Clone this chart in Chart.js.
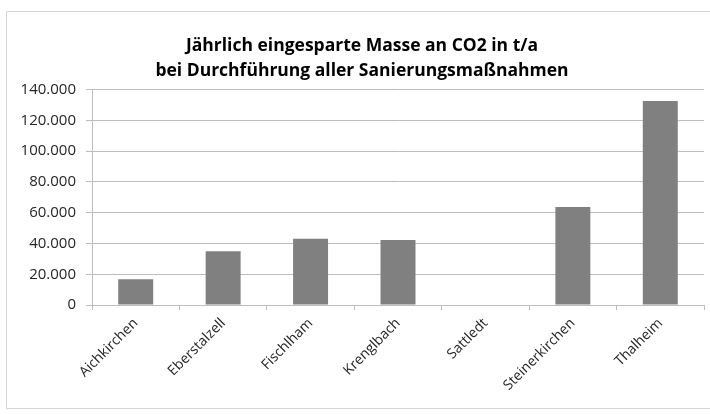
<!DOCTYPE html>
<html>
<head>
<meta charset="utf-8">
<script src="https://cdn.jsdelivr.net/npm/chart.js@4"></script>
<style>
  html, body { margin: 0; padding: 0; background: #fff; }
  #wrap { position: relative; width: 710px; height: 414px; overflow: hidden; }
  #frame { position: absolute; left: 6px; top: 11px; width: 720px; height: 396px; border: 1px solid #d4d4d4; }
  canvas { position: absolute; left: 0; top: 0; }
</style>
</head>
<body>
<div id="wrap">
  <div id="frame"></div>
  <canvas id="co2Chart" width="710" height="414"></canvas>
</div>
<script>
// Gemeinden und eingesparte CO2-Masse (t/a)
const gemeinden = ['Aichkirchen', 'Eberstalzell', 'Fischlham', 'Krenglbach', 'Sattledt', 'Steinerkirchen', 'Thalheim'];
const einsparung = [16700, 35000, 43000, 42300, 0, 63700, 132600];
const yTicks = [0, 20000, 40000, 60000, 80000, 100000, 120000, 140000];
const titelZeilen = ['Jährlich eingesparte Masse an CO2 in t/a', 'bei Durchführung aller Sanierungsmaßnahmen'];

document.addEventListener("DOMContentLoaded", function() {
    const ctx = document.getElementById('co2Chart').getContext('2d');

    function deZahl(v) {
        return String(v).replace(/\B(?=(\d{3})+(?!\d))/g, '.');
    }

    new Chart(ctx, {
        type: 'bar',
        data: {
            labels: gemeinden,
            datasets: [{
                label: 'CO2 t/a',
                data: einsparung,
                backgroundColor: '#808080',
                borderWidth: 0,
                barPercentage: 0.4,
                categoryPercentage: 1.0
            }]
        },
        options: {
            responsive: false,
            animation: false,
            layout: {
                // links mehr Platz, damit der Titel wie im Original etwas rechts sitzt
                padding: { left: 20, right: 6, top: 0, bottom: 0 }
            },
            plugins: {
                legend: { display: false },
                tooltip: { enabled: false },
                title: {
                    display: true,
                    text: titelZeilen,
                    color: '#000',
                    font: { family: 'Open Sans', size: 17.5, weight: 'bold', lineHeight: 1.42 },
                    padding: { top: 34, bottom: 6 }
                }
            },
            scales: {
                x: {
                    afterFit: function(s) { s.height = 109; },
                    grid: {
                        offset: true,
                        drawOnChartArea: false,
                        drawTicks: true,
                        tickLength: 5,
                        color: '#bdbdbd'
                    },
                    border: { color: '#bdbdbd' },
                    ticks: {
                        color: '#262626',
                        font: { family: 'Open Sans', size: 14 },
                        maxRotation: 45,
                        minRotation: 45,
                        padding: 5
                    }
                },
                y: {
                    min: 0,
                    max: 140000,
                    afterFit: function(s) { s.width = 72; },
                    afterBuildTicks: function(s) {
                        s.ticks = yTicks.map(v => ({ value: v }));
                    },
                    grid: {
                        color: '#bdbdbd',
                        tickLength: 6
                    },
                    border: { color: '#bdbdbd' },
                    ticks: {
                        color: '#262626',
                        font: { family: 'Open Sans', size: 15 },
                        padding: 10,
                        callback: function(v) { return deZahl(v); }
                    }
                }
            }
        }
    });
});
</script>
</body>
</html>
